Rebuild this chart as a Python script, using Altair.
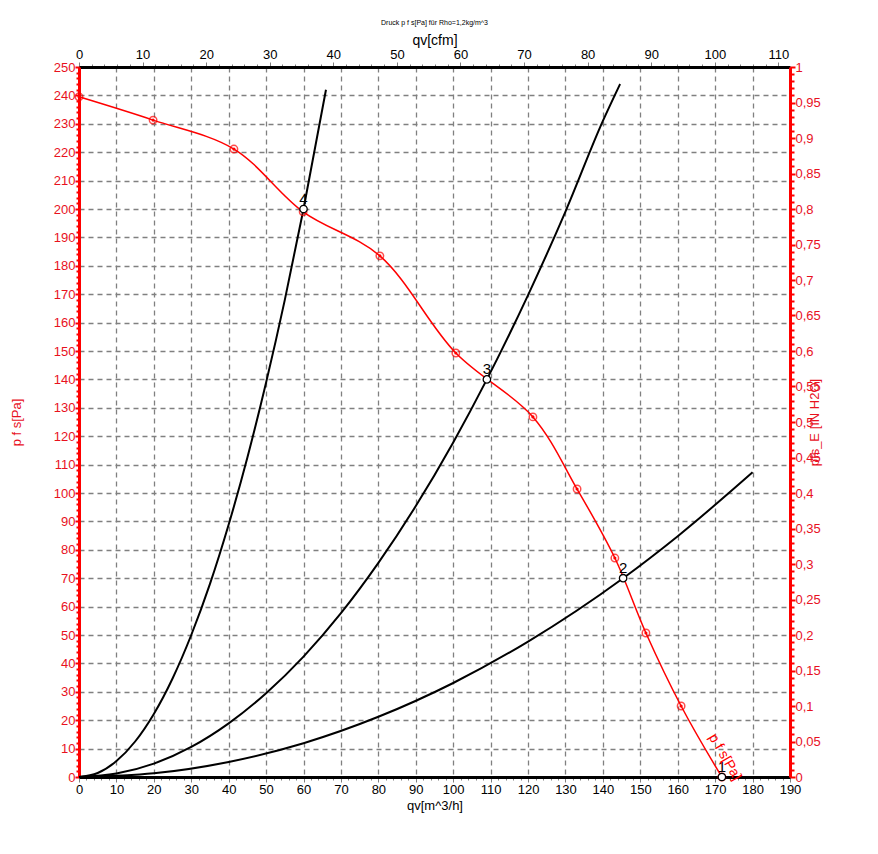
import altair as alt
import pandas as pd

# ---- data ----
# fan curve p f s [Pa] vs qv [m^3/h] (marked points)
PFS_Q = [0, 19.8, 41.4, 59.9, 80.4, 100.7, 121.3, 133.1, 143.2, 151.5, 160.9, 171.8]
PFS_P = [239.5, 231.3, 221.1, 199.0, 183.5, 149.3, 126.8, 101.4, 77.1, 50.7, 25.0, 0.0]

# system curves
SYS4_Q = [0, 5, 10, 15, 20, 25, 30, 35, 40, 45, 50, 55, 60, 66]
SYS4_P = [0, 1.4, 5.6, 12.5, 22.2, 34.7, 50, 68, 88.9, 112.5, 138.9, 168, 200, 242]
SYS3_Q = [0, 10, 20, 30, 40, 50, 60, 70, 80, 90, 100, 109, 120, 130, 140, 144.6]
SYS3_P = [0, 1.2, 4.7, 10.6, 18.9, 29.5, 42.4, 57.7, 75.4, 95.4, 117.8, 140, 169.7, 199.1, 231, 244]
SYS2_Q = [0, 20, 40, 60, 80, 100, 120, 145.4, 160, 180]
SYS2_P = [0, 1.3, 5.3, 11.9, 21.2, 33.1, 47.7, 70, 84.8, 107.3]

# operating points
OP_Q = [171.8, 145.4, 109.0, 60.0]
OP_P = [0, 70, 140, 200]
OP_LABEL = ["1", "2", "3", "4"]

# secondary axes ranges
CFM_RANGE = [0, 111.83]
INH2O_RANGE = [0, 1]

RED = "#ff0000"
RED_TXT = "#e8111e"
FONT = "Liberation Sans"

fan = pd.DataFrame({"q": PFS_Q, "p": PFS_P})
sys_df = pd.concat([
    pd.DataFrame({"q": SYS4_Q, "p": SYS4_P, "curve": "4"}),
    pd.DataFrame({"q": SYS3_Q, "p": SYS3_P, "curve": "3"}),
    pd.DataFrame({"q": SYS2_Q, "p": SYS2_P, "curve": "2"}),
])
ops = pd.DataFrame({"q": OP_Q, "p": OP_P, "label": OP_LABEL})
lab = pd.DataFrame({"q": [172.6], "p": [7.0], "t": ["p f s[Pa]"]})
sec = pd.DataFrame({"cfm": CFM_RANGE, "inh2o": INH2O_RANGE})

major10 = "datum.value % 10 === 0"

x_axis = alt.Axis(
    orient="bottom", values=list(range(0, 191, 2)),
    labelExpr=f"{major10} ? datum.label : ''", labelFlush=False, labelOverlap=False,
    title="qv[m^3/h]", titleFont=FONT, titleFontSize=13, titleFontWeight="normal",
    titleColor="black", titlePadding=3,
    labelFont=FONT, labelFontSize=13, labelColor="black", labelPadding=1,
    domainColor="black", domainWidth=3,
    tickColor="#808080", tickWidth=1,
    tickSize={"condition": {"test": major10, "value": 5}, "value": 3},
    grid=True, gridColor="#808080", gridWidth=1.3, gridDash=[5, 4],
    gridOpacity={"condition": {"test": major10, "value": 1}, "value": 0},
)
y_axis = alt.Axis(
    orient="left", values=list(range(0, 251, 2)),
    labelExpr=f"{major10} ? datum.label : ''", labelFlush=False, labelOverlap=False,
    title="p f s[Pa]", titleFont=FONT, titleFontSize=13, titleFontWeight="normal",
    titleColor=RED_TXT, titlePadding=30,
    labelFont=FONT, labelFontSize=13, labelColor=RED_TXT, labelPadding=0,
    domainColor=RED, domainWidth=3,
    tickColor=RED, tickWidth=2,
    tickSize={"condition": {"test": major10, "value": 4}, "value": 3},
    grid=True, gridColor="#808080", gridWidth=1.3, gridDash=[5, 4],
    gridOpacity={"condition": {"test": major10, "value": 1}, "value": 0},
)

X = alt.X("q:Q", scale=alt.Scale(domain=[0, 190], nice=False, zero=False), axis=x_axis)
Y = alt.Y("p:Q", scale=alt.Scale(domain=[0, 250], nice=False, zero=False), axis=y_axis)

sys_lines = alt.Chart(sys_df).mark_line(color="black", strokeWidth=2, interpolate="monotone", clip=False).encode(
    x=X, y=Y, detail="curve:N")
fan_line = alt.Chart(fan).mark_line(color=RED, strokeWidth=1.5, interpolate="catmull-rom").encode(x=X, y=Y)
fan_circ = alt.Chart(fan).mark_point(shape="circle", filled=False, size=55, color=RED, strokeWidth=1.5).encode(x=X, y=Y)
fan_dot = alt.Chart(fan).mark_point(shape="circle", filled=True, size=10, color=RED, opacity=1).encode(x=X, y=Y)
op_pts = alt.Chart(ops).mark_point(shape="circle", filled=True, size=55, fill="white", stroke="black",
                                   strokeWidth=1.3, opacity=1).encode(x=X, y=Y)
op_txt = alt.Chart(ops).mark_text(font=FONT, fontSize=15, color="black", baseline="alphabetic", dy=-5).encode(
    x=X, y=Y, text="label:N")
fan_lab = alt.Chart(lab).mark_text(font=FONT, fontSize=14, color=RED, angle=60).encode(x=X, y=Y, text="t:N")

main = alt.layer(sys_lines, fan_line, fan_circ, fan_dot, op_pts, op_txt, fan_lab)

top_axis = alt.Axis(
    orient="top", values=list(range(0, 112, 2)),
    labelExpr=f"{major10} ? datum.label : ''", labelFlush=False, labelOverlap=False,
    title="qv[cfm]", titleFont=FONT, titleFontSize=14, titleFontWeight="normal", titleColor="black",
    titlePadding=1,
    labelFont=FONT, labelFontSize=13, labelColor="black", labelPadding=1,
    domainColor="black", domainWidth=3, tickColor="#808080",
    tickSize={"condition": {"test": major10, "value": 5}, "value": 3},
    grid=False,
)
right_axis = alt.Axis(
    orient="right", values=[i / 100 for i in range(0, 101)],
    labelExpr="round(datum.value * 100) % 5 === 0 ? replace(format(datum.value, '~g'), '.', ',') : ''",
    labelFlush=False, labelOverlap=False,
    title="pfs_E [IN H2O]", titleFont=FONT, titleFontSize=13, titleFontWeight="normal",
    titleColor=RED_TXT, titleAngle=270, titleX=24, titleY=355, titleBaseline="middle",
    labelFont=FONT, labelFontSize=13, labelColor=RED_TXT, labelPadding=0,
    domainColor=RED, domainWidth=3, tickColor=RED, tickWidth=2,
    tickSize={"condition": {"test": "round(datum.value * 100) % 5 === 0", "value": 5}, "value": 4},
    grid=False,
)
secondary = alt.Chart(sec).mark_point(opacity=0).encode(
    x=alt.X("cfm:Q", scale=alt.Scale(domain=CFM_RANGE, nice=False, zero=False), axis=top_axis),
    y=alt.Y("inh2o:Q", scale=alt.Scale(domain=INH2O_RANGE, nice=False, zero=False), axis=right_axis),
)

chart = alt.layer(main, secondary).resolve_scale(x="independent", y="independent").properties(
    width=711, height=710,
    autosize=alt.AutoSizeParams(type="none"),
    padding={"left": 79, "top": 67, "right": 88, "bottom": 77},
    title=alt.TitleParams("Druck p f s[Pa] für Rho=1,2kg/m^3", fontSize=7, fontWeight="normal",
                          font=FONT, color="black", offset=7),
    background="white",
).configure_view(stroke=None)

chart.save("out.html", embed_options={"renderer": "svg", "actions": False})
